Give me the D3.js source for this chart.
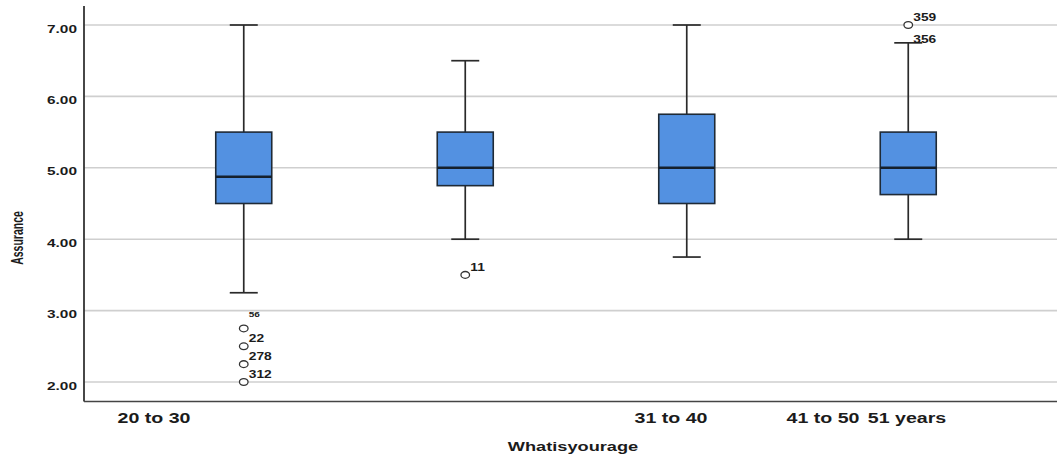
<!DOCTYPE html>
<html>
<head>
<meta charset="utf-8">
<script src="https://cdn.jsdelivr.net/npm/d3@7"></script>
<style>
  html, body { margin: 0; padding: 0; background: #fff; }
  svg { display: block; }
  text { font-family: "Liberation Sans", Arial, sans-serif; font-weight: bold; fill: #1b1b1b; }
</style>
</head>
<body>
<svg id="chart" width="1057" height="459"></svg>
<script>
// Age groups and the Assurance summary statistics for each box
const groups = ["20 to 30", "31 to 40", "41 to 50", "51 years"];
const whiskerLow = [3.25, 4.0, 3.75, 4.0];
const q1 = [4.5, 4.75, 4.5, 4.625];
const median = [4.875, 5.0, 5.0, 5.0];
const q3 = [5.5, 5.5, 5.75, 5.5];
const whiskerHigh = [7.0, 6.5, 7.0, 6.75];

// Outlying cases: group index, value, case number, whether a marker is drawn
const outlierGroup = [0, 0, 0, 0, 1, 3, 3];
const outlierValue = [2.75, 2.5, 2.25, 2.0, 3.5, 7.0, 6.75];
const outlierCase = ["56", "22", "278", "312", "11", "359", "356"];
const outlierMarker = [true, true, true, true, true, true, false];

const yTicks = [2, 3, 4, 5, 6, 7];
const yTickLabels = ["2.00", "3.00", "4.00", "5.00", "6.00", "7.00"];
const xTickLabels = ["20 to 30", "31 to 40", "41 to 50", "51 years"];

// Layout
const W = 1057, H = 459;
const axisX = 84, axisBottom = 401.5, axisTop = 6;
const xLabelCentres = [154, 671, 823, 907];
const stretch = 1.4; // glyphs are drawn horizontally widened

const svg = d3.select("#chart");

const y = d3.scaleLinear().domain([2, 7]).range([382, 25]);
const x = d3.scaleBand().domain(groups).range([133, 1019]);
const cx = i => x(groups[i]) + x.bandwidth() / 2;
const boxW = 56, capW = 28;

// Horizontal gridlines
const grid = svg.append("g");
grid.selectAll("line").data(yTicks).join("line")
  .attr("x1", axisX).attr("x2", W)
  .attr("y1", d => y(d)).attr("y2", d => y(d))
  .attr("stroke", "#cfcfcf").attr("stroke-width", 1.6);

// Axes lines
svg.append("line").attr("x1", axisX).attr("x2", axisX).attr("y1", axisTop).attr("y2", axisBottom)
  .attr("stroke", "#333").attr("stroke-width", 1.8);
svg.append("line").attr("x1", axisX).attr("x2", W).attr("y1", axisBottom).attr("y2", axisBottom)
  .attr("stroke", "#444").attr("stroke-width", 1.6);

// Y tick labels
svg.append("g").selectAll("text").data(yTicks).join("text")
  .attr("transform", d => `translate(77,${y(d) + 7.5}) scale(${stretch},1)`)
  .attr("text-anchor", "end")
  .attr("font-size", 11)
  .text((d, i) => yTickLabels[i]);

// X tick labels
svg.append("g").selectAll("text").data(xTickLabels).join("text")
  .attr("transform", (d, i) => `translate(${xLabelCentres[i]},423) scale(${stretch},1)`)
  .attr("text-anchor", "middle")
  .attr("font-size", 14)
  .text(d => d);

// Axis titles
svg.append("text")
  .attr("transform", `translate(573,451) scale(${stretch},1)`)
  .attr("text-anchor", "middle").attr("font-size", 13)
  .text("Whatisyourage");
svg.append("text")
  .attr("transform", `translate(23,238) scale(1.55,1) rotate(-90)`)
  .attr("text-anchor", "middle").attr("font-size", 10.5)
  .text("Assurance");

// Boxes
const idx = d3.range(groups.length);
const boxes = svg.append("g").selectAll("g").data(idx).join("g");

boxes.append("line") // whisker stem
  .attr("x1", cx).attr("x2", cx)
  .attr("y1", i => y(whiskerHigh[i])).attr("y2", i => y(whiskerLow[i]))
  .attr("stroke", "#2a2a2a").attr("stroke-width", 1.7);
boxes.append("line") // upper cap
  .attr("x1", i => cx(i) - capW / 2).attr("x2", i => cx(i) + capW / 2)
  .attr("y1", i => y(whiskerHigh[i])).attr("y2", i => y(whiskerHigh[i]))
  .attr("stroke", "#2a2a2a").attr("stroke-width", 1.7);
boxes.append("line") // lower cap
  .attr("x1", i => cx(i) - capW / 2).attr("x2", i => cx(i) + capW / 2)
  .attr("y1", i => y(whiskerLow[i])).attr("y2", i => y(whiskerLow[i]))
  .attr("stroke", "#2a2a2a").attr("stroke-width", 1.7);
boxes.append("rect")
  .attr("x", i => cx(i) - boxW / 2).attr("width", boxW)
  .attr("y", i => y(q3[i])).attr("height", i => y(q1[i]) - y(q3[i]))
  .attr("fill", "#5391e1").attr("stroke", "#1f2a36").attr("stroke-width", 1.6);
boxes.append("line") // median
  .attr("x1", i => cx(i) - boxW / 2).attr("x2", i => cx(i) + boxW / 2)
  .attr("y1", i => y(median[i])).attr("y2", i => y(median[i]))
  .attr("stroke", "#15202c").attr("stroke-width", 2.4);

// Outliers and their case labels
const oIdx = d3.range(outlierValue.length);
const ox = j => cx(outlierGroup[j]);
const oy = j => y(outlierValue[j]);

svg.append("g").selectAll("ellipse").data(oIdx.filter(j => outlierMarker[j])).join("ellipse")
  .attr("cx", ox).attr("cy", oy)
  .attr("rx", 4.3).attr("ry", 3.4)
  .attr("fill", "#fff").attr("stroke", "#333").attr("stroke-width", 1.3);

svg.append("g").selectAll("text").data(oIdx).join("text")
  .attr("transform", j => {
    const small = outlierCase[j] === "56";
    const dy = small ? -11 : (outlierMarker[j] ? -4 : 0);
    return `translate(${ox(j) + 5},${oy(j) + dy}) scale(1.25,1)`;
  })
  .attr("font-size", j => outlierCase[j] === "56" ? 8 : 11)
  .text(j => outlierCase[j]);
</script>
</body>
</html>
